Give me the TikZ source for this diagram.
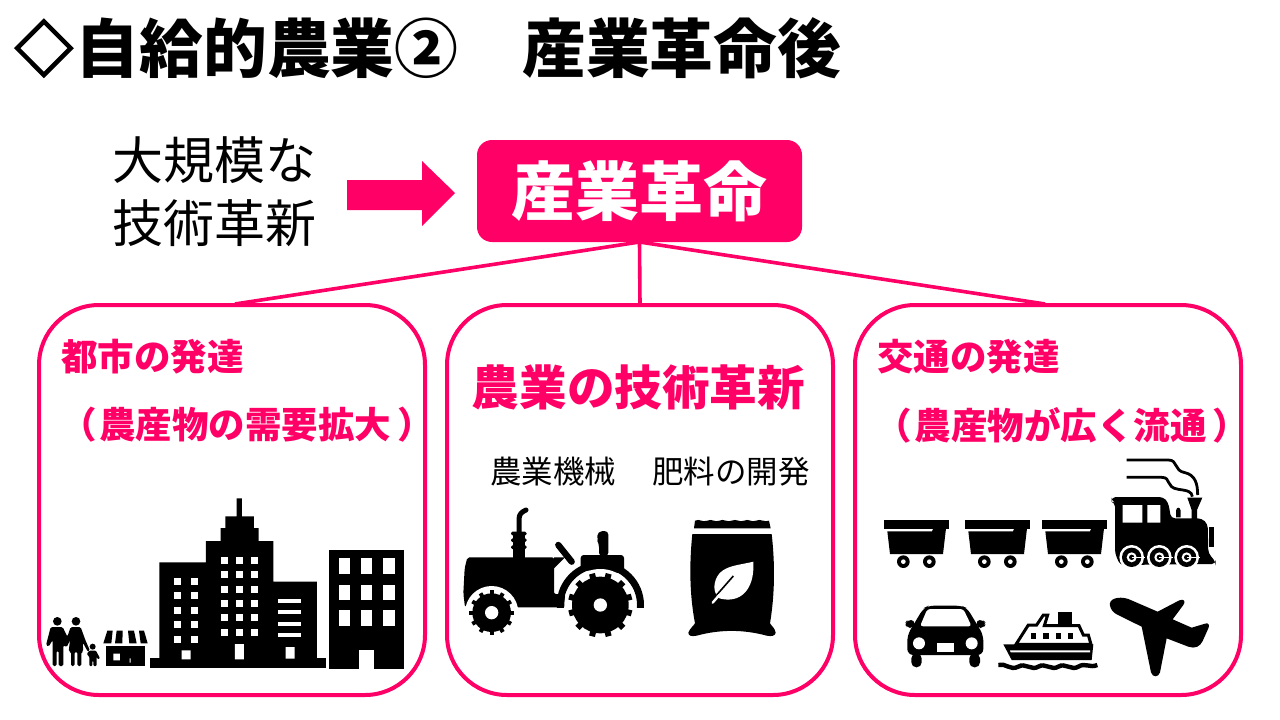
\documentclass[tikz,border=0pt]{standalone}
\usepackage{fontspec}
\newfontfamily\cjk{Noto Sans CJK JP}
\newfontfamily\cjkheavy[FakeBold=4]{Noto Sans CJK JP}
\definecolor{hot}{RGB}{255,0,102}
\tikzset{
  lbl/.style={inner sep=0pt,outer sep=0pt,font=\cjk},
  pinklbl/.style={lbl,text=hot},
  panel/.style={draw=hot,line width=4pt,rounded corners=60pt,minimum width=386pt,minimum height=390pt,inner sep=0pt,outer sep=0pt,fill=white},
  link/.style={draw=hot,line width=3.6pt},
  zoomed/.style={shift={(#1)},scale=0.33333}
}
\newcommand{\fs}[1]{\fontsize{#1}{#1}\selectfont}
\newcommand{\wagon}[1]{%
  \begin{scope}[shift={(#1,0)}]
    \fill (42,211) rectangle (237,236);
    \fill (52,244) -- (186,244) -- (190,235) -- (228,235) -- (219,312) -- (60,312) -- cycle;
    \foreach \c in {100,178}{
      \fill (\c,335) circle[radius=19];
      \fill[white] (\c,335) circle[radius=7];
    }
  \end{scope}}
\begin{document}
\begin{tikzpicture}[x=1pt,y=-1pt]
\useasboundingbox (0,0) rectangle (1280,720);
\fill[white] (0,0) rectangle (1280,720);

% title
\node[lbl,anchor=west] (title) at (12,48) {\fs{63.8}\kern2.9pt\raisebox{2pt}{\fs{58}\cjkheavy ◇}\kern2.9pt\bfseries 自給的農業②　産業革命後};

% top row
\node[lbl] (t1) at (214,160) {\fs{51}大規模な};
\node[lbl] (t2) at (214,223) {\fs{51}技術革新};
\fill[hot] (347,180) -- (422,180) -- (422,161) -- (455,193) -- (422,226) -- (422,210) -- (347,210) -- cycle;
\node[fill=hot,rounded corners=15pt,minimum width=325pt,minimum height=102pt,inner sep=0pt,outer sep=0pt,text=white,font=\cjk] (rev) at (639.5,191) {\fs{64}\bfseries 産業革命};

% panels
\node[panel] (p1) at (232,500) {};
\node[panel] (p2) at (640,500) {};
\node[panel] (p3) at (1048,500) {};
\coordinate (j1) at (235,304);
\coordinate (j3) at (1045,304);
\draw[link] (rev.south) -- (j1);
\draw[link] (rev.south) -- (p2.north);
\draw[link] (rev.south) -- (j3);

% panel text
\node[pinklbl,anchor=west] (a1) at (61,357) {\fs{36.5}\bfseries 都市の発達};
\node[pinklbl,anchor=west] (a2) at (60,425) {\fs{36.5}\bfseries （\kern3pt農産物の需要拡大\kern6pt）};
\node[pinklbl] (b1) at (638.5,387) {\fs{47.6}\bfseries 農業の技術革新};
\node[lbl] (b2) at (553,472) {\fs{31.5}農業機械};
\node[lbl] (b3) at (731,472) {\fs{31.5}肥料の開発};
\node[pinklbl,anchor=west] (c1) at (877,357) {\fs{36.5}\bfseries 交通の発達};
\node[pinklbl,anchor=west] (c2) at (875,425) {\fs{36.5}\bfseries （\kern3pt農産物が広く流通\kern6pt）};

% ---------- city ----------
\begin{scope}[zoomed={30,480}]
  % family
  \fill (82,424) circle[radius=13] (138,424) circle[radius=13] (188,500) circle[radius=9];
  \fill[rounded corners=1.5pt] (62,441) -- (98,441) -- (112,470) -- (122,441) -- (152,441) -- (166,480) -- (180,512) -- (174,516) -- (158,487) -- (160,515) -- (154,515) -- (154,558) -- (142,558) -- (142,515) -- (134,515) -- (134,558) -- (123,558) -- (123,515) -- (116,515) -- (120,480) -- (110,502) -- (100,495) -- (100,558) -- (86,558) -- (86,512) -- (80,512) -- (80,558) -- (68,558) -- (68,480) -- (56,500) -- (48,496) -- cycle;
  \fill[rounded corners=1pt] (178,512) -- (198,512) -- (210,535) -- (203,538) -- (200,530) -- (200,558) -- (190,558) -- (190,542) -- (187,542) -- (187,558) -- (178,558) -- (178,530) -- (170,522) -- cycle;
  % shop
  \fill (232,452) -- (248,452) -- (244,490) -- (220,490) -- cycle;
  \fill (260,452) -- (278,452) -- (277,490) -- (255,490) -- cycle;
  \fill (294,452) -- (312,452) -- (320,490) -- (298,490) -- cycle;
  \fill (327,452) -- (342,452) -- (353,490) -- (332,490) -- cycle;
  \fill (228,497) rectangle (345,558);
  \fill[white] (250,521) rectangle (270,541) (299,535) rectangle (302,548);
  % big building
  \fill (360,535) rectangle (888,563);
  \fill (388,535) -- (388,247) -- (528,247) -- (528,183) -- (572,183) -- (572,144) -- (586,144) -- (586,109) -- (620,109) -- (620,55) -- (636,55) -- (636,109) -- (672,109) -- (672,144) -- (686,144) -- (686,183) -- (730,183) -- (730,305) -- (861,305) -- (861,535) -- cycle;
  \foreach \y in {294,337,380,424,467}{
    \foreach \x in {433,484}{\fill[white] (\x,\y) rectangle ++(21,21);}}
  \foreach \y in {232,274,318,360,403,446}{
    \foreach \x in {574,618,662}{\fill[white] (\x,\y) rectangle ++(21,21);}}
  \foreach \y in {356,391,425,459}{\fill[white] (745,\y) rectangle ++(68,12);}
  \fill[white] (455,511) rectangle (482,538) (615,492) rectangle (642,538) (767,501) rectangle (794,536);
  % right building
  \fill (898,210) rectangle (1121,566);
  \foreach \y in {235,314,391}{
    \foreach \x in {926,993,1060}{\fill[white] (\x,\y) rectangle ++(34,46);}}
  \fill[white] (987,511) rectangle (1032,566);
\end{scope}

% ---------- tractor and bag ----------
\begin{scope}[zoomed={450,490}]
  % exhaust
  \draw[line width=5pt,line cap=round] (207,130) -- (207,88) .. controls (207,72) and (215,66) .. (228,60);
  \fill (190,125) rectangle (225,205);
  \foreach \y in {125,145,166}{\fill[rounded corners=1.5pt] (183,\y) rectangle (230,\y+11);}
  % body
  \fill[rounded corners=2pt] (52,202) -- (312,202) -- (312,312) -- (345,312) -- (345,352) -- (45,352) -- (40,310) -- (44,235) -- cycle;
  \fill (312,235) -- (312,202) -- (345,202) -- cycle;
  % steering
  \draw[line width=6.4pt,line cap=round] (325,165) -- (365,215);
  % seat
  \fill[rounded corners=3pt] (392,240) -- (392,195) -- (522,195) -- (522,250) -- cycle;
  \fill[rounded corners=4pt] (447,200) -- (447,160) -- (441,150) -- (443,125) -- (475,122) -- (475,200) -- cycle;
  % fender
  \begin{scope}
    \clip (300,100) rectangle (600,352);
    \fill[even odd rule] (451,345) circle[radius=131] (451,345) circle[radius=110];
  \end{scope}
  \fill[white] (451,345) circle[radius=108];
  % front arch + wheels
  \fill[white] (125,368) circle[radius=80];
  \fill (125,368) circle[radius=58];
  \begin{scope}[shift={(125,368)}]
    \foreach \a in {0,30,...,330}{\draw[line width=4pt] (\a:52) -- (\a:67);}
  \end{scope}
  \fill[white] (125,368) circle[radius=20];
  \fill (451,345) circle[radius=85];
  \begin{scope}[shift={(451,345)}]
    \foreach \a in {15,45,...,345}{\draw[line width=6pt] (\a:80) -- (\a:97);}
  \end{scope}
  \fill[white] (451,345) circle[radius=20];

  % bag
  \fill (732,115) -- (735,92) .. controls (750,85) and (755,98) .. (772,92) .. controls (785,85) and (795,98) .. (808,92) .. controls (820,85) and (832,98) .. (845,92) .. controls (858,85) and (870,98) .. (882,92) .. controls (895,85) and (905,98) .. (918,92) .. controls (930,85) and (945,98) .. (957,92) -- (962,115) -- cycle;
  \fill (727,132) -- (965,132) .. controls (975,220) and (975,310) .. (960,400) .. controls (965,408) and (975,415) .. (977,428) .. controls (975,438) and (965,440) .. (950,437) .. controls (880,418) and (810,418) .. (740,437) .. controls (725,440) and (715,438) .. (715,428) .. controls (720,415) and (730,408) .. (735,400) .. controls (718,310) and (718,220) .. (727,132) -- cycle;
  \fill[white] (910,215) .. controls (860,228) and (798,225) .. (793,290) .. controls (793,305) and (798,315) .. (808,325) .. controls (870,342) and (915,300) .. cycle;
  \draw[line width=1.6pt] (850,258) -- (800,315);
  \draw[white,line width=2.4pt,line cap=round] (808,315) -- (788,338);
\end{scope}

% ---------- trains ----------
\begin{scope}[zoomed={870,450}]
  \wagon{0}
  \wagon{243}
  \wagon{474}
  % smoke
  \draw[line width=2.8pt] (770,30) -- (895,30) .. controls (925,30) and (910,62) .. (945,68) .. controls (975,75) and (983,100) .. (983,135);
  \draw[line width=2.8pt] (770,82) -- (875,82) .. controls (905,82) and (885,112) .. (925,118) .. controls (955,122) and (965,125) .. (967,140);
  % loco
  \fill[rounded corners=4pt] (735,158) -- (725,155) -- (725,141) -- (880,141) -- (895,158) -- (903,205) -- (995,205) -- (1013,222) -- (1015,310) -- (1037,335) -- (1037,342) -- (750,345) -- (735,310) -- cycle;
  \fill[white] (758,165) rectangle (817,218) (832,165) rectangle (871,218);
  \fill[white] (913,202) -- (913,178) .. controls (915,162) and (935,162) .. (937,178) -- (937,202) -- cycle;
  \fill (918,202) -- (918,182) .. controls (920,170) and (930,170) .. (932,182) -- (932,202) -- cycle;
  \fill (952,143) -- (997,143) -- (981,180) -- (981,210) -- (965,210) -- (965,180) -- cycle;
  \fill (1018,230) rectangle (1032,290);
  \foreach \c in {785,868,950}{
    \fill[white] (\c,322) circle[radius=37];
    \fill (\c,322) circle[radius=29];
    \fill[white] (\c,322) circle[radius=15];
    \fill (\c,322) circle[radius=8];
    \draw[white,line width=1.2pt] (\c,322) -- ++(40,0);
  }
\end{scope}

% ---------- car, ship, plane ----------
\begin{scope}[zoomed={890,585}]
  % car
  \fill[rounded corners=6pt] (52,150) -- (100,70) -- (115,62) -- (215,62) -- (232,70) -- (280,150) -- (280,210) -- (52,210) -- cycle;
  \fill[white,rounded corners=3pt] (112,72) -- (220,72) -- (245,124) -- (90,124) -- cycle;
  \fill[rounded corners=4pt] (70,130) -- (50,128) -- (45,115) -- (52,105) -- (75,105) -- cycle;
  \fill[rounded corners=4pt] (262,130) -- (282,128) -- (288,115) -- (280,105) -- (258,105) -- cycle;
  \fill[rounded corners=5pt] (64,205) rectangle (95,247);
  \fill[rounded corners=5pt] (238,205) rectangle (270,247);
  \fill[white] (87,175) circle[radius=18] (245,175) circle[radius=18];
  \fill[white] (140,175) rectangle (193,200);
  % ship
  \fill (505,82) rectangle (545,125);
  \draw[line width=3pt,fill=white] (378,178) -- (415,120) -- (440,120) -- (460,90) -- (473,90) -- (463,122) -- (567,122) -- (580,150) -- (595,150) -- (603,178) -- cycle;
  \fill (340,178) -- (610,178) -- (605,225) -- (365,225) -- cycle;
  \fill[white] (360,196) -- (600,196) -- (600,202) -- (362,202) -- cycle;
  \foreach \x in {423,460,497,534}{\fill (\x,145) rectangle ++(16,16);}
  \draw[line width=4.4pt] (325,240) .. controls (345,232) and (360,258) .. (385,245) .. controls (405,232) and (425,258) .. (445,245) .. controls (465,232) and (485,258) .. (505,245) .. controls (525,232) and (545,258) .. (565,245) .. controls (585,232) and (600,250) .. (622,240);
  % plane
  \fill (660,62) .. controls (655,42) and (685,32) .. (715,42) -- (803,80) -- (868,46) .. controls (882,40) and (888,50) .. (880,60) -- (848,103) -- (905,128) -- (945,116) .. controls (955,112) and (960,120) .. (955,130) -- (938,168) .. controls (930,185) and (915,192) .. (895,185) -- (830,160) -- (810,262) .. controls (805,278) and (788,278) .. (783,262) -- (755,125) -- (680,88) .. controls (670,82) and (663,75) .. cycle;
\end{scope}
\end{tikzpicture}
\end{document}
